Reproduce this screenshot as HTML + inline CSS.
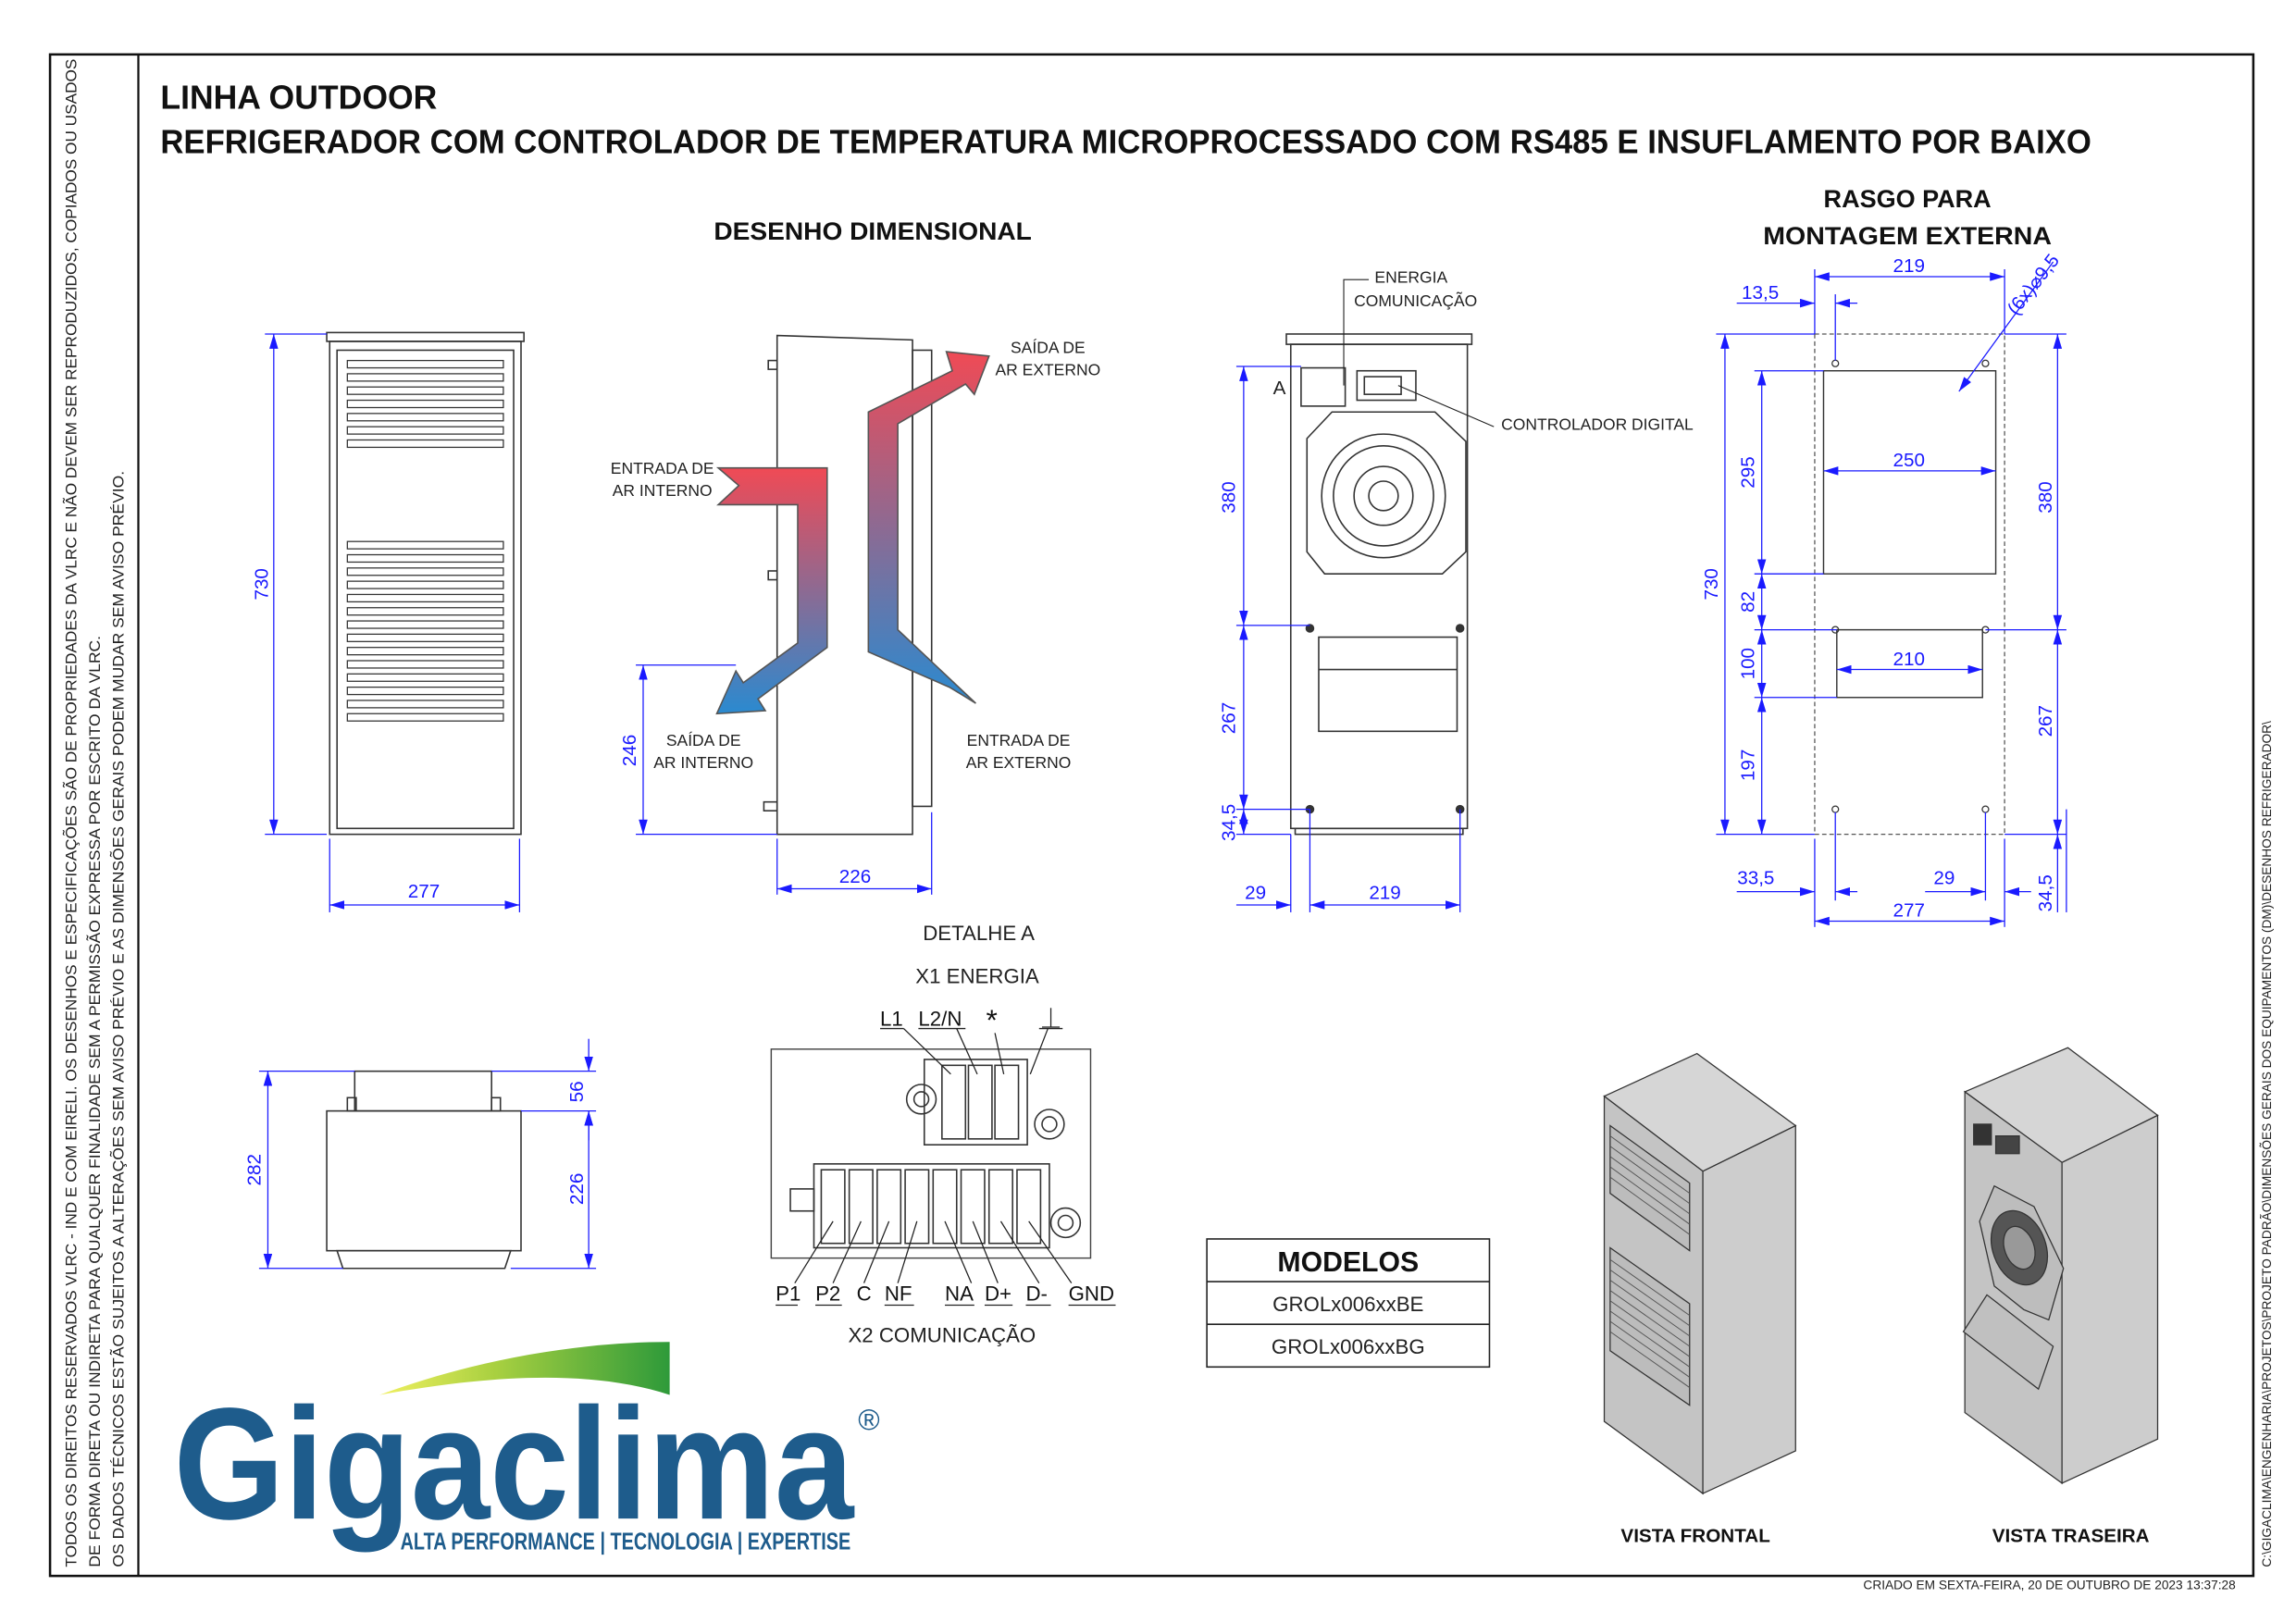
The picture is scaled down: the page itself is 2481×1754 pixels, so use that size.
<!DOCTYPE html>
<html><head><meta charset="utf-8"><style>
html,body{margin:0;padding:0;background:#fff}
svg{display:block}
text{font-family:"Liberation Sans",sans-serif}
.d{stroke:#1a1aff;stroke-width:0.8;fill:none}
.dt{fill:#1a1aff;font-size:13px}
.k{stroke:#333;stroke-width:1;fill:none}
.lb{font-size:11px;fill:#222}
</style></head><body>
<svg width="2481" height="1754" viewBox="0 0 1560 1103" preserveAspectRatio="none" xmlns="http://www.w3.org/2000/svg">
<defs>
<marker id="a" viewBox="0 0 10 6" refX="10" refY="3" markerWidth="10" markerHeight="6" orient="auto-start-reverse" markerUnits="userSpaceOnUse"><path d="M0,0L10,3L0,6z" fill="#1a1aff"/></marker>
<linearGradient id="g1" x1="0" y1="0" x2="0" y2="1"><stop offset="0" stop-color="#f04a55"/><stop offset="1" stop-color="#2a8ad0"/></linearGradient>
<linearGradient id="g2" x1="0" y1="1" x2="0" y2="0"><stop offset="0" stop-color="#2a8ad0"/><stop offset="1" stop-color="#f04a55"/></linearGradient>
<linearGradient id="sw" x1="0" y1="0" x2="1" y2="0"><stop offset="0" stop-color="#f0f060"/><stop offset="0.4" stop-color="#a8d040"/><stop offset="1" stop-color="#2e9a3a"/></linearGradient>
</defs>
<!-- frame -->
<rect x="34" y="37" width="1497" height="1034" fill="none" stroke="#111" stroke-width="1.6"/>
<line x1="94" y1="37" x2="94" y2="1071" stroke="#111" stroke-width="1.4"/>
<g font-size="10.2" fill="#222">
<text transform="translate(52,1065) rotate(-90)" textLength="1025" lengthAdjust="spacingAndGlyphs">TODOS OS DIREITOS RESERVADOS VLRC - IND E COM EIRELI. OS DESENHOS E ESPECIFICAÇÕES SÃO DE PROPRIEDADES DA VLRC E NÃO DEVEM SER REPRODUZIDOS, COPIADOS OU USADOS</text>
<text transform="translate(68,1065) rotate(-90)" textLength="633" lengthAdjust="spacingAndGlyphs">DE FORMA DIRETA OU INDIRETA PARA QUALQUER FINALIDADE SEM A PERMISSÃO EXPRESSA POR ESCRITO DA VLRC.</text>
<text transform="translate(84,1065) rotate(-90)" textLength="745" lengthAdjust="spacingAndGlyphs">OS DADOS TÉCNICOS ESTÃO SUJEITOS A ALTERAÇÕES SEM AVISO PRÉVIO E AS DIMENSÕES GERAIS PODEM MUDAR SEM AVISO PRÉVIO.</text>
</g>
<text transform="translate(1543,1065) rotate(-90)" font-size="8.5" fill="#222" textLength="575" lengthAdjust="spacingAndGlyphs">C:\GIGACLIMA\ENGENHARIA\PROJETOS\PROJETO PADRÃO\DIMENSÕES GERAIS DOS EQUIPAMENTOS (DM)\DESENHOS REFRIGERADOR\</text>
<text x="1266" y="1080" font-size="8.5" fill="#222" textLength="253" lengthAdjust="spacingAndGlyphs">CRIADO EM SEXTA-FEIRA, 20 DE OUTUBRO DE 2023 13:37:28</text>
<!-- titles -->
<text x="109" y="74" font-size="23" font-weight="bold" fill="#111" textLength="188" lengthAdjust="spacingAndGlyphs">LINHA OUTDOOR</text>
<text x="109" y="104" font-size="23" font-weight="bold" fill="#111" textLength="1312" lengthAdjust="spacingAndGlyphs">REFRIGERADOR COM CONTROLADOR DE TEMPERATURA MICROPROCESSADO COM RS485 E INSUFLAMENTO POR BAIXO</text>
<text x="485" y="163" font-size="17" font-weight="bold" fill="#111" textLength="216" lengthAdjust="spacingAndGlyphs">DESENHO DIMENSIONAL</text>
<text x="1296" y="141" font-size="17" font-weight="bold" fill="#111" text-anchor="middle">RASGO PARA</text>
<text x="1296" y="166" font-size="17" font-weight="bold" fill="#111" text-anchor="middle" textLength="196" lengthAdjust="spacingAndGlyphs">MONTAGEM EXTERNA</text>

<!-- FRONT VIEW -->
<g class="k">
<rect x="222" y="226" width="134" height="6"/>
<rect x="224" y="232" width="130" height="335"/>
<rect x="229" y="238" width="120" height="325"/>
<g stroke-width="0.8">
<rect x="236" y="245" width="106" height="5"/><rect x="236" y="254" width="106" height="5"/><rect x="236" y="263" width="106" height="5"/><rect x="236" y="272" width="106" height="5"/><rect x="236" y="281" width="106" height="5"/><rect x="236" y="290" width="106" height="5"/><rect x="236" y="299" width="106" height="5"/>
<rect x="236" y="368" width="106" height="5"/><rect x="236" y="377" width="106" height="5"/><rect x="236" y="386" width="106" height="5"/><rect x="236" y="395" width="106" height="5"/><rect x="236" y="404" width="106" height="5"/><rect x="236" y="413" width="106" height="5"/><rect x="236" y="422" width="106" height="5"/><rect x="236" y="431" width="106" height="5"/><rect x="236" y="440" width="106" height="5"/><rect x="236" y="449" width="106" height="5"/><rect x="236" y="458" width="106" height="5"/><rect x="236" y="467" width="106" height="5"/><rect x="236" y="476" width="106" height="5"/><rect x="236" y="485" width="106" height="5"/>
</g></g>
<g class="d">
<line x1="180" y1="227" x2="222" y2="227"/><line x1="180" y1="567" x2="222" y2="567"/>
<line x1="186" y1="227" x2="186" y2="567" marker-start="url(#a)" marker-end="url(#a)"/>
<line x1="224" y1="570" x2="224" y2="620"/><line x1="353" y1="570" x2="353" y2="620"/>
<line x1="224" y1="615" x2="353" y2="615" marker-start="url(#a)" marker-end="url(#a)"/>
</g>
<text class="dt" transform="translate(182,397) rotate(-90)" text-anchor="middle">730</text>
<text class="dt" x="288" y="610" text-anchor="middle">277</text>

<!-- SIDE VIEW -->
<g class="k">
<path d="M528,228 L620,231 L620,567 L528,567 Z"/>
<rect x="620" y="238" width="13" height="310"/>
<rect x="522" y="245" width="6" height="6"/><rect x="522" y="388" width="6" height="6"/><rect x="519" y="545" width="9" height="6"/>
</g>
<path d="M488,318 L562,318 L562,440 L515,475 L520,483 L487,485 L500,456 L505,464 L542,437 L542,343 L488,343 L502,330 Z" fill="url(#g1)" stroke="#555" stroke-width="1"/>
<path d="M660,475 L610,425 L610,290 L650,265 L645,254 L672,241 L665,268 L658,262 L628,282 L602,300 L602,430 L590,442 L590,280 L640,252" fill="none"/>
<path d="M590,443 L590,280 L647,252 L643,239 L672,242 L662,268 L656,261 L610,288 L610,428 L663,478 L655,473 L645,467 Z" fill="url(#g2)" stroke="#555" stroke-width="1"/>
<g class="lb" font-size="10.5">
<text x="450" y="322" text-anchor="middle">ENTRADA DE</text><text x="450" y="337" text-anchor="middle">AR INTERNO</text>
<text x="712" y="240" text-anchor="middle">SAÍDA DE</text><text x="712" y="255" text-anchor="middle">AR EXTERNO</text>
<text x="478" y="507" text-anchor="middle">SAÍDA DE</text><text x="478" y="522" text-anchor="middle">AR INTERNO</text>
<text x="692" y="507" text-anchor="middle">ENTRADA DE</text><text x="692" y="522" text-anchor="middle">AR EXTERNO</text>
</g>
<g class="d">
<line x1="432" y1="452" x2="500" y2="452"/><line x1="432" y1="567" x2="528" y2="567"/>
<line x1="437" y1="452" x2="437" y2="567" marker-start="url(#a)" marker-end="url(#a)"/>
<line x1="528" y1="570" x2="528" y2="608"/><line x1="633" y1="552" x2="633" y2="608"/>
<line x1="528" y1="604" x2="633" y2="604" marker-start="url(#a)" marker-end="url(#a)"/>
</g>
<text class="dt" transform="translate(432,510) rotate(-90)" text-anchor="middle">246</text>
<text class="dt" x="581" y="600" text-anchor="middle">226</text>

<!-- BACK VIEW -->
<g class="k">
<rect x="874" y="227" width="126" height="7"/>
<rect x="877" y="234" width="120" height="329"/>
<rect x="880" y="563" width="114" height="4"/>
<rect x="884" y="250" width="30" height="26"/>
<rect x="922" y="252" width="40" height="20"/><rect x="927" y="256" width="25" height="12"/>
<path d="M905,280 L975,280 L996,300 L996,375 L980,390 L900,390 L888,375 L888,298 Z"/>
<circle cx="940" cy="337" r="42"/><circle cx="940" cy="337" r="34"/><circle cx="940" cy="337" r="20"/><circle cx="940" cy="337" r="10"/>
<rect x="896" y="433" width="94" height="64"/><line x1="896" y1="455" x2="990" y2="455"/>
</g>
<g fill="#333"><circle cx="890" cy="427" r="3"/><circle cx="992" cy="427" r="3"/><circle cx="890" cy="550" r="3"/><circle cx="992" cy="550" r="3"/></g>
<text x="865" y="268" font-size="13" fill="#222">A</text>
<path d="M913,262 L913,190 L930,190 M950,262 L1015,290" fill="none" stroke="#222" stroke-width="0.7"/>
<g class="lb" font-size="10.5"><text x="934" y="192">ENERGIA</text><text x="920" y="208">COMUNICAÇÃO</text><text x="1020" y="292">CONTROLADOR DIGITAL</text></g>
<g class="d">
<line x1="840" y1="249" x2="884" y2="249"/><line x1="840" y1="425" x2="890" y2="425"/><line x1="840" y1="550" x2="890" y2="550"/><line x1="840" y1="567" x2="877" y2="567"/>
<line x1="845" y1="249" x2="845" y2="425" marker-start="url(#a)" marker-end="url(#a)"/>
<line x1="845" y1="425" x2="845" y2="550" marker-start="url(#a)" marker-end="url(#a)"/>
<line x1="845" y1="550" x2="845" y2="567" marker-start="url(#a)" marker-end="url(#a)"/>
<line x1="877" y1="567" x2="877" y2="620"/><line x1="890" y1="550" x2="890" y2="620"/><line x1="992" y1="550" x2="992" y2="620"/>
<line x1="840" y1="615" x2="877" y2="615" marker-end="url(#a)"/>
<line x1="890" y1="615" x2="992" y2="615" marker-start="url(#a)" marker-end="url(#a)"/>
</g>
<text class="dt" transform="translate(839,338) rotate(-90)" text-anchor="middle">380</text>
<text class="dt" transform="translate(839,488) rotate(-90)" text-anchor="middle">267</text>
<text class="dt" transform="translate(839,559) rotate(-90)" text-anchor="middle">34,5</text>
<text class="dt" x="853" y="611" text-anchor="middle">29</text>
<text class="dt" x="941" y="611" text-anchor="middle">219</text>

<!-- RASGO -->
<rect x="1233" y="227" width="129" height="340" fill="none" stroke="#555" stroke-width="0.8" stroke-dasharray="3,2"/>
<rect x="1239" y="252" width="117" height="138" fill="none" stroke="#333" stroke-width="0.9"/>
<rect x="1248" y="428" width="99" height="46" fill="none" stroke="#333" stroke-width="0.9"/>
<g fill="none" stroke="#333" stroke-width="0.8"><circle cx="1247" cy="247" r="2.2"/><circle cx="1349" cy="247" r="2.2"/><circle cx="1247" cy="428" r="2.2"/><circle cx="1349" cy="428" r="2.2"/><circle cx="1247" cy="550" r="2.2"/><circle cx="1349" cy="550" r="2.2"/></g>
<g class="d">
<line x1="1166" y1="227" x2="1233" y2="227"/><line x1="1166" y1="567" x2="1233" y2="567"/>
<line x1="1172" y1="227" x2="1172" y2="567" marker-start="url(#a)" marker-end="url(#a)"/>
<line x1="1192" y1="252" x2="1239" y2="252"/><line x1="1192" y1="390" x2="1239" y2="390"/><line x1="1192" y1="428" x2="1248" y2="428"/><line x1="1192" y1="474" x2="1248" y2="474"/>
<line x1="1197" y1="252" x2="1197" y2="390" marker-start="url(#a)" marker-end="url(#a)"/>
<line x1="1197" y1="390" x2="1197" y2="428" marker-start="url(#a)" marker-end="url(#a)"/>
<line x1="1197" y1="428" x2="1197" y2="474" marker-start="url(#a)" marker-end="url(#a)"/>
<line x1="1197" y1="474" x2="1197" y2="567" marker-start="url(#a)" marker-end="url(#a)"/>
<line x1="1362" y1="227" x2="1404" y2="227"/><line x1="1349" y1="428" x2="1404" y2="428"/><line x1="1362" y1="567" x2="1404" y2="567"/>
<line x1="1398" y1="227" x2="1398" y2="428" marker-start="url(#a)" marker-end="url(#a)"/>
<line x1="1398" y1="428" x2="1398" y2="567" marker-start="url(#a)" marker-end="url(#a)"/>
<line x1="1233" y1="183" x2="1233" y2="227"/><line x1="1362" y1="183" x2="1362" y2="227"/><line x1="1247" y1="200" x2="1247" y2="245"/>
<line x1="1233" y1="188" x2="1362" y2="188" marker-start="url(#a)" marker-end="url(#a)"/>
<line x1="1180" y1="206" x2="1233" y2="206" marker-end="url(#a)"/><line x1="1262" y1="206" x2="1247" y2="206" marker-end="url(#a)"/>
<line x1="1239" y1="320" x2="1356" y2="320" marker-start="url(#a)" marker-end="url(#a)"/>
<line x1="1248" y1="455" x2="1347" y2="455" marker-start="url(#a)" marker-end="url(#a)"/>
<line x1="1395" y1="178" x2="1331" y2="266" marker-end="url(#a)"/>
<line x1="1233" y1="570" x2="1233" y2="630"/><line x1="1247" y1="552" x2="1247" y2="612"/><line x1="1349" y1="552" x2="1349" y2="612"/><line x1="1362" y1="570" x2="1362" y2="630"/><line x1="1404" y1="550" x2="1404" y2="620"/>
<line x1="1180" y1="606" x2="1233" y2="606" marker-end="url(#a)"/><line x1="1262" y1="606" x2="1247" y2="606" marker-end="url(#a)"/>
<line x1="1308" y1="606" x2="1349" y2="606" marker-end="url(#a)"/><line x1="1380" y1="606" x2="1362" y2="606" marker-end="url(#a)"/>
<line x1="1233" y1="626" x2="1362" y2="626" marker-start="url(#a)" marker-end="url(#a)"/>
<line x1="1398" y1="567" x2="1398" y2="620" marker-start="url(#a)"/>
</g>
<text class="dt" x="1297" y="185" text-anchor="middle">219</text>
<text class="dt" x="1196" y="203" text-anchor="middle">13,5</text>
<text class="dt" transform="translate(1370,215) rotate(-52)" font-size="12">(6x)⌀9,5</text>
<text class="dt" x="1297" y="317" text-anchor="middle">250</text>
<text class="dt" x="1297" y="452" text-anchor="middle">210</text>
<text class="dt" transform="translate(1167,397) rotate(-90)" text-anchor="middle">730</text>
<text class="dt" transform="translate(1192,321) rotate(-90)" text-anchor="middle">295</text>
<text class="dt" transform="translate(1192,409) rotate(-90)" text-anchor="middle">82</text>
<text class="dt" transform="translate(1192,451) rotate(-90)" text-anchor="middle">100</text>
<text class="dt" transform="translate(1192,520) rotate(-90)" text-anchor="middle">197</text>
<text class="dt" transform="translate(1394,338) rotate(-90)" text-anchor="middle">380</text>
<text class="dt" transform="translate(1394,490) rotate(-90)" text-anchor="middle">267</text>
<text class="dt" transform="translate(1394,607) rotate(-90)" text-anchor="middle">34,5</text>
<text class="dt" x="1193" y="601" text-anchor="middle">33,5</text>
<text class="dt" x="1321" y="601" text-anchor="middle">29</text>
<text class="dt" x="1297" y="623" text-anchor="middle">277</text>

<!-- TOP VIEW -->
<g class="k">
<rect x="241" y="728" width="93" height="27"/>
<rect x="236" y="746" width="6" height="9"/><rect x="334" y="746" width="6" height="9"/>
<rect x="222" y="755" width="132" height="95"/>
<path d="M229,850 L347,850 L343,862 L233,862 Z"/>
</g>
<g class="d">
<line x1="176" y1="728" x2="241" y2="728"/><line x1="176" y1="862" x2="233" y2="862"/>
<line x1="182" y1="728" x2="182" y2="862" marker-start="url(#a)" marker-end="url(#a)"/>
<line x1="354" y1="755" x2="405" y2="755"/><line x1="347" y1="862" x2="405" y2="862"/><line x1="334" y1="728" x2="405" y2="728"/>
<line x1="400" y1="706" x2="400" y2="728" marker-end="url(#a)"/><line x1="400" y1="775" x2="400" y2="755" marker-end="url(#a)"/>
<line x1="400" y1="755" x2="400" y2="862" marker-start="url(#a)" marker-end="url(#a)"/>
</g>
<text class="dt" transform="translate(177,795) rotate(-90)" text-anchor="middle">282</text>
<text class="dt" transform="translate(396,742) rotate(-90)" text-anchor="middle">56</text>
<text class="dt" transform="translate(396,808) rotate(-90)" text-anchor="middle">226</text>

<!-- DETAIL A -->
<text x="665" y="639" font-size="14" fill="#222" text-anchor="middle">DETALHE A</text>
<text x="664" y="668" font-size="14" fill="#222" text-anchor="middle">X1 ENERGIA</text>
<rect x="524" y="713" width="217" height="142" fill="none" stroke="#444" stroke-width="0.9"/>
<g class="k" stroke-width="0.9">
<rect x="628" y="720" width="70" height="58"/>
<rect x="640" y="724" width="16" height="50"/><rect x="658" y="724" width="16" height="50"/><rect x="676" y="724" width="16" height="50"/>
<circle cx="626" cy="747" r="10"/><circle cx="626" cy="747" r="5"/>
<circle cx="713" cy="764" r="10"/><circle cx="713" cy="764" r="5"/>
<rect x="553" y="791" width="160" height="57"/>
<rect x="537" y="808" width="16" height="15"/>
<rect x="558" y="795" width="16" height="50"/><rect x="577" y="795" width="16" height="50"/><rect x="596" y="795" width="16" height="50"/><rect x="615" y="795" width="16" height="50"/><rect x="634" y="795" width="16" height="50"/><rect x="653" y="795" width="16" height="50"/><rect x="672" y="795" width="16" height="50"/><rect x="691" y="795" width="16" height="50"/>
<circle cx="724" cy="831" r="10"/><circle cx="724" cy="831" r="5"/>
</g>
<g font-size="14" fill="#111">
<text x="598" y="697">L1</text><text x="624" y="697">L2/N</text><text x="670" y="700" font-size="20">*</text>
<text x="527" y="884">P1</text><text x="554" y="884">P2</text><text x="582" y="884">C</text><text x="601" y="884">NF</text><text x="642" y="884">NA</text><text x="669" y="884">D+</text><text x="697" y="884">D-</text><text x="726" y="884">GND</text>
</g>
<g stroke="#222" stroke-width="0.8" fill="none">
<line x1="598" y1="699" x2="614" y2="699"/><line x1="624" y1="699" x2="656" y2="699"/><line x1="706" y1="699" x2="722" y2="699"/>
<line x1="714" y1="685" x2="714" y2="698"/><line x1="708" y1="698" x2="720" y2="698"/>
<line x1="614" y1="699" x2="646" y2="730"/><line x1="650" y1="699" x2="664" y2="730"/><line x1="676" y1="702" x2="682" y2="730"/><line x1="712" y1="699" x2="700" y2="730"/>
<line x1="527" y1="887" x2="542" y2="887"/><line x1="554" y1="887" x2="572" y2="887"/><line x1="601" y1="887" x2="621" y2="887"/><line x1="642" y1="887" x2="662" y2="887"/><line x1="669" y1="887" x2="688" y2="887"/><line x1="697" y1="887" x2="714" y2="887"/><line x1="726" y1="887" x2="758" y2="887"/>
<line x1="540" y1="872" x2="566" y2="830"/><line x1="566" y1="872" x2="585" y2="830"/><line x1="587" y1="872" x2="604" y2="830"/><line x1="610" y1="872" x2="623" y2="830"/><line x1="660" y1="872" x2="642" y2="830"/><line x1="678" y1="872" x2="661" y2="830"/><line x1="706" y1="872" x2="680" y2="830"/><line x1="728" y1="872" x2="699" y2="830"/>
</g>
<text x="640" y="912" font-size="14" fill="#222" text-anchor="middle">X2 COMUNICAÇÃO</text>

<!-- MODELOS -->
<rect x="820" y="842" width="192" height="87" fill="none" stroke="#222" stroke-width="1"/>
<line x1="820" y1="871" x2="1012" y2="871" stroke="#222"/><line x1="820" y1="900" x2="1012" y2="900" stroke="#222"/>
<text x="916" y="864" font-size="19" font-weight="bold" fill="#111" text-anchor="middle">MODELOS</text>
<text x="916" y="891" font-size="14" fill="#222" text-anchor="middle">GROLx006xxBE</text>
<text x="916" y="920" font-size="14" fill="#222" text-anchor="middle">GROLx006xxBG</text>

<!-- 3D FRONT -->
<g stroke="#333" stroke-width="0.8">
<polygon points="1090,745 1153,716 1220,765 1157,796" fill="#d6d6d6"/>
<polygon points="1090,745 1157,796 1157,1015 1090,966" fill="#c4c4c4"/>
<polygon points="1157,796 1220,765 1220,986 1157,1015" fill="#cdcdcd"/>
<polygon points="1094,765 1148,804 1148,850 1094,811" fill="#bcbcbc"/>
<polygon points="1094,848 1148,886 1148,955 1094,918" fill="#bcbcbc"/>
</g>
<g stroke="#555" stroke-width="0.6">
<line x1="1094" y1="772" x2="1148" y2="811"/><line x1="1094" y1="779" x2="1148" y2="818"/><line x1="1094" y1="786" x2="1148" y2="825"/><line x1="1094" y1="793" x2="1148" y2="832"/><line x1="1094" y1="800" x2="1148" y2="839"/>
<line x1="1094" y1="856" x2="1148" y2="894"/><line x1="1094" y1="863" x2="1148" y2="901"/><line x1="1094" y1="870" x2="1148" y2="908"/><line x1="1094" y1="877" x2="1148" y2="915"/><line x1="1094" y1="884" x2="1148" y2="922"/><line x1="1094" y1="891" x2="1148" y2="929"/><line x1="1094" y1="898" x2="1148" y2="936"/><line x1="1094" y1="905" x2="1148" y2="943"/>
</g>
<text x="1152" y="1048" font-size="13" font-weight="bold" fill="#111" text-anchor="middle">VISTA FRONTAL</text>
<!-- 3D BACK -->
<g stroke="#333" stroke-width="0.8">
<polygon points="1335,742 1405,712 1466,758 1401,790" fill="#d6d6d6"/>
<polygon points="1335,742 1401,790 1401,1008 1335,960" fill="#c4c4c4"/>
<polygon points="1401,790 1466,758 1466,978 1401,1008" fill="#cdcdcd"/>
<polygon points="1355,806 1382,820 1402,862 1392,897 1375,890 1355,874 1345,830" fill="#bdbdbd"/>
<ellipse cx="1372" cy="848" rx="18" ry="26" fill="#555" transform="rotate(-20,1372,848)"/>
<ellipse cx="1372" cy="848" rx="10" ry="15" fill="#999" transform="rotate(-20,1372,848)"/>
<polygon points="1334,905 1350,880 1395,915 1385,944" fill="#c0c0c0"/>
<rect x="1341" y="764" width="12" height="14" fill="#333"/><rect x="1356" y="772" width="16" height="12" fill="#444"/>
</g>
<text x="1407" y="1048" font-size="13" font-weight="bold" fill="#111" text-anchor="middle">VISTA TRASEIRA</text>

<!-- LOGO -->
<path d="M258,948 C320,925 390,912 455,912 L455,948 C400,930 330,935 258,948 Z" fill="url(#sw)"/>
<text x="118" y="1032" font-size="108" font-weight="bold" fill="#1e5c8c" textLength="462" lengthAdjust="spacingAndGlyphs">Gigaclima</text>
<text x="583" y="972" font-size="20" fill="#1e5c8c">®</text>
<text x="272" y="1053" font-size="16" font-weight="bold" fill="#1e5c8c" textLength="306" lengthAdjust="spacingAndGlyphs">ALTA PERFORMANCE | TECNOLOGIA | EXPERTISE</text>
</svg>
</body></html>
